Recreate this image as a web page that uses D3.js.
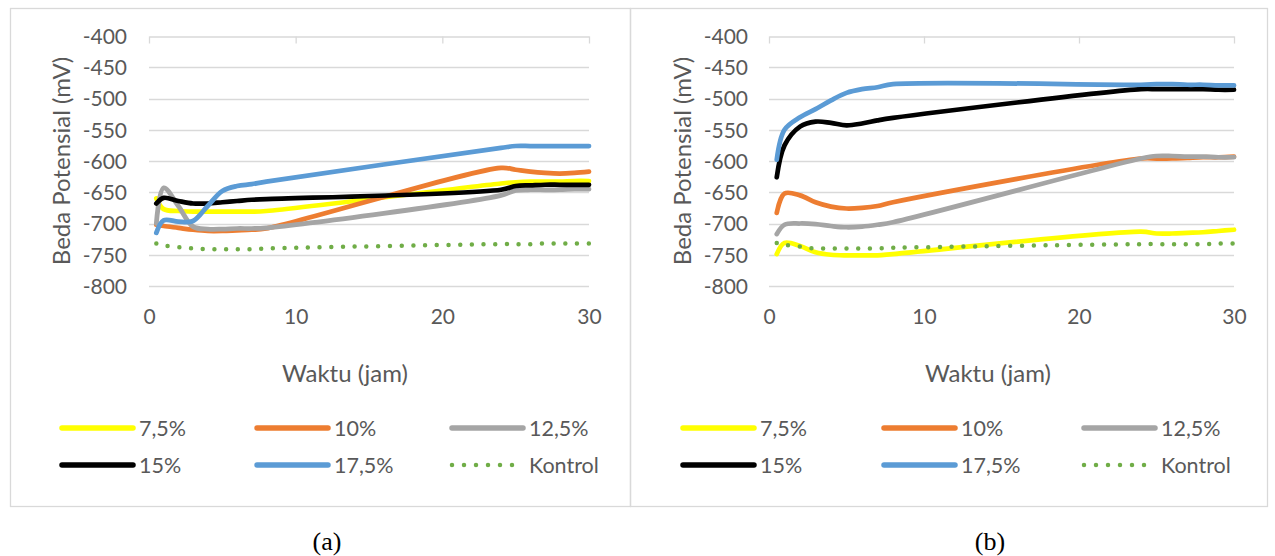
<!DOCTYPE html>
<html>
<head>
<meta charset="utf-8">
<script src="https://cdn.jsdelivr.net/npm/d3@7"></script>
<style>
  body { margin: 0; background: #fff; }
  svg { display: block; }
  .lbl { font-family: Lato, "Open Sans", sans-serif; fill: #595959; }
  .cap { font-family: "Liberation Serif", "Times New Roman", serif; fill: #000; }
</style>
</head>
<body>
<svg id="chart" width="1275" height="556"></svg>
<script>
// Measurement times (hours)
const hours = [0.5, 1, 2, 3, 4, 5, 6, 7, 8, 24, 25, 26, 27, 28, 29, 30];

const seriesLabels = ["7,5%", "10%", "12,5%", "15%", "17,5%", "Kontrol"];
const yTicks = [-400, -450, -500, -550, -600, -650, -700, -750, -800];
const xTicks = [0, 10, 20, 30];

// Panel (a) potentials (mV)
const a75      = [-660, -677, -680, -681, -681, -681, -681, -681, -680, -636, -634, -633, -633, -633, -632, -632];
const a10      = [-702, -704, -707, -710, -712, -712, -711, -710, -708, -611, -614, -617, -619, -620, -619, -617];
const a125     = [-700, -643, -672, -705, -709, -709, -708, -708, -707, -655, -647, -646, -646, -646, -645, -645];
const a15      = [-668, -659, -664, -668, -668, -666, -664, -662, -661, -646, -640, -639, -638, -638, -638, -638];
const a175     = [-715, -695, -697, -696, -672, -648, -640, -637, -633, -579, -576, -576, -576, -576, -576, -576];
const aKontrol = [-732, -735, -738, -740, -741, -741, -741, -741, -740, -733, -733, -733, -732, -732, -732, -732];

// Panel (b) potentials (mV)
const b75      = [-749, -731, -736, -746, -750, -751, -751, -751, -749, -713, -716, -716, -715, -714, -712, -710];
const b10      = [-683, -652, -655, -666, -673, -676, -675, -672, -666, -596, -596, -596, -595, -594, -594, -593];
const b125     = [-717, -702, -700, -701, -704, -706, -705, -702, -698, -596, -592, -592, -593, -593, -594, -594];
const b15      = [-626, -575, -545, -537, -539, -543, -540, -535, -531, -485, -485, -485, -485, -485, -486, -486];
const b175     = [-598, -550, -530, -517, -503, -491, -485, -482, -477, -478, -477, -477, -478, -478, -479, -479];
const bKontrol = [-731, -734, -737, -740, -740, -740, -740, -740, -739, -733, -733, -733, -733, -733, -732, -732];

const colors = ["#FFFF00", "#ED7D31", "#A5A5A5", "#000000", "#5B9BD5", "#70AD47"];
const dotted = [false, false, false, false, false, true];

const panels = [
  { caption: "(a)", frame: [10, 630], plot: [149, 589], yLabelX: 127, yTitleX: 62, xTitleX: 345,
    legendX: [62, 257, 452], captionX: 327, data: [a75, a10, a125, a15, a175, aKontrol] },
  { caption: "(b)", frame: [630, 1267], plot: [769, 1234], yLabelX: 748, yTitleX: 683, xTitleX: 988,
    legendX: [683, 884, 1084], captionX: 990, data: [b75, b10, b125, b15, b175, bKontrol] }
];

const svg = d3.select("#chart");
const gridColor = "#D9D9D9";
const lineW = 4.75;
const tickFont = 21;
const titleFont = 24;
const legendFont = 21.5;

panels.forEach(p => {
  const g = svg.append("g");

  // chart frame
  g.append("rect")
    .attr("x", p.frame[0] + 0.5).attr("y", 8.5)
    .attr("width", p.frame[1] - p.frame[0]).attr("height", 498)
    .attr("fill", "none").attr("stroke", gridColor).attr("stroke-width", 1.3);

  const x = d3.scaleLinear().domain([0, 30]).range(p.plot);
  const y = d3.scaleLinear().domain([-400, -800]).range([36, 286]);

  // horizontal gridlines
  g.append("g").selectAll("line").data(yTicks.slice(1)).join("line")
    .attr("x1", p.plot[0]).attr("x2", p.plot[1])
    .attr("y1", d => Math.round(y(d)) + 0.5).attr("y2", d => Math.round(y(d)) + 0.5)
    .attr("stroke", gridColor).attr("stroke-width", 1.3);

  // horizontal axis line crossing at -400, with tick marks
  const topAxis = g.append("g")
    .attr("transform", `translate(0,${Math.round(y(-400)) + 0.5})`)
    .call(d3.axisBottom(x).tickValues(xTicks).tickSize(7).tickSizeOuter(0).tickFormat(""));
  topAxis.select(".domain").attr("stroke", gridColor).attr("stroke-width", 1.3);
  topAxis.selectAll(".tick line").attr("stroke", gridColor).attr("stroke-width", 1.3);

  // vertical axis labels
  const yAxis = g.append("g")
    .attr("transform", `translate(${p.yLabelX},0)`)
    .call(d3.axisLeft(y).tickValues(yTicks).tickSize(0).tickPadding(0).tickFormat(d => String(d)));
  yAxis.select(".domain").remove();
  yAxis.selectAll("text").attr("class", "lbl").attr("font-size", tickFont)
    .attr("text-anchor", "end").attr("dy", "0.35em").attr("x", 0);

  // horizontal axis labels
  const xAxis = g.append("g")
    .attr("transform", "translate(0,317)")
    .call(d3.axisBottom(x).tickValues(xTicks).tickSize(0).tickPadding(0).tickFormat(d => String(d)));
  xAxis.select(".domain").remove();
  xAxis.selectAll("text").attr("class", "lbl").attr("font-size", tickFont).attr("y", 0).attr("dy", "0.35em");

  // axis titles
  g.append("text").attr("class", "lbl").attr("font-size", titleFont)
    .attr("transform", `translate(${p.yTitleX},161) rotate(-90)`)
    .attr("text-anchor", "middle").attr("dy", "0.35em").text("Beda Potensial (mV)");
  g.append("text").attr("class", "lbl").attr("font-size", titleFont)
    .attr("x", p.xTitleX).attr("y", 374).attr("text-anchor", "middle").attr("dy", "0.35em")
    .text("Waktu (jam)");

  // series
  const line = d3.line()
    .x((d, i) => x(hours[i]))
    .y(d => y(d))
    .curve(d3.curveCatmullRom.alpha(0.5));

  p.data.forEach((vals, s) => {
    const path = g.append("path").datum(vals)
      .attr("d", line)
      .attr("fill", "none")
      .attr("stroke", colors[s])
      .attr("stroke-width", lineW)
      .attr("stroke-linejoin", "round")
      .attr("stroke-linecap", "round");
    if (dotted[s]) path.attr("stroke-dasharray", "0 11.7").attr("stroke-width", 4.5);
  });

  // legend
  seriesLabels.forEach((name, s) => {
    const lx = p.legendX[s % 3];
    const ly = 428 + Math.floor(s / 3) * 37;
    const seg = g.append("line")
      .attr("x1", lx).attr("x2", lx + 71).attr("y1", ly).attr("y2", ly)
      .attr("stroke", colors[s]).attr("stroke-width", 5.5).attr("stroke-linecap", "round");
    if (dotted[s]) seg.attr("x2", lx + 62).attr("stroke-dasharray", "0 12").attr("stroke-width", 4.5);
    g.append("text").attr("class", "lbl").attr("font-size", legendFont)
      .attr("x", lx + 77).attr("y", ly).attr("dy", "0.35em").text(name);
  });

  // panel caption
  g.append("text").attr("class", "cap").attr("font-size", 26)
    .attr("x", p.captionX).attr("y", 541).attr("text-anchor", "middle").attr("dy", "0.35em")
    .text(p.caption);
});
</script>
</body>
</html>
